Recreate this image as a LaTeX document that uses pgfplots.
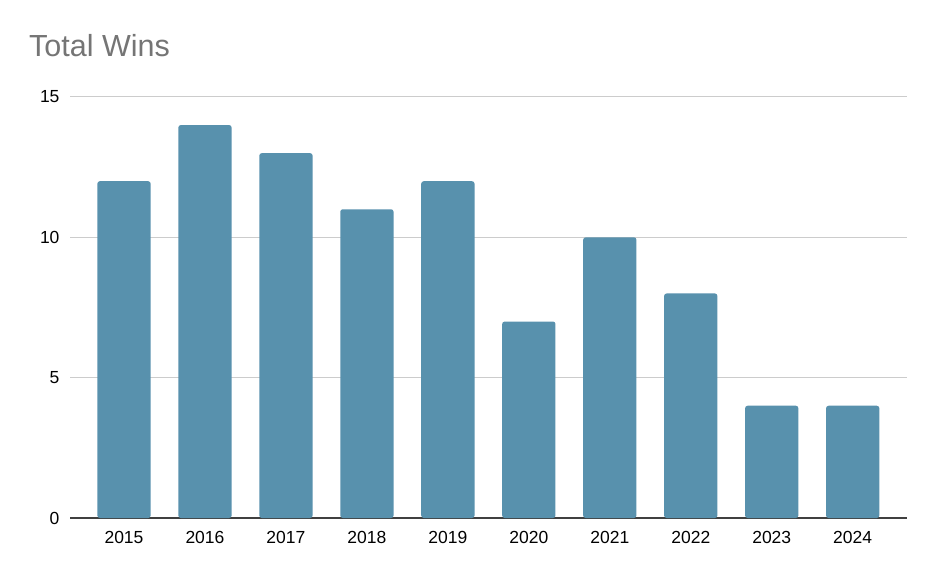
\documentclass[border=0pt]{standalone}
\usepackage{pgfplots}
\pgfplotsset{compat=1.18}
\usepackage{fontspec}
\setmainfont{Liberation Sans}
\definecolor{barc}{HTML}{5891AD}
\definecolor{gridc}{HTML}{CCCCCC}
\definecolor{titlec}{HTML}{757575}
\begin{document}
\begin{tikzpicture}[x=1pt,y=1pt]
\path[use as bounding box] (0,0) rectangle (936,578);
\node[anchor=base west, text=titlec, font=\fontsize{30.5}{34}\selectfont, inner sep=0pt] at (29,521.5) {Total Wins};
\begin{axis}[
  at={(70pt,60pt)}, anchor=south west,
  scale only axis, width=836.7pt, height=421pt,
  xmin=-0.667, xmax=9.667, ymin=0, ymax=15,
  ybar, bar width=0.658,
  xtick=data,
  xticklabels={2015,2016,2017,2018,2019,2020,2021,2022,2023,2024},
  ytick={0,5,10,15},
  ymajorgrids, grid style={gridc, line width=1pt},
  axis x line*=bottom, axis y line*=left,
  y axis line style={draw=none},
  x axis line style={draw=black!75, line width=1.6pt, -},
  major tick length=0pt,
  tick label style={font=\fontsize{17.5}{20}\selectfont},
  /pgf/number format/assume math mode=true,
  xticklabel style={yshift=-10pt},
  yticklabel style={xshift=-7pt},
  ]
\addplot[fill=barc, draw=none, rounded corners=2.5pt] coordinates {
(0,12) (1,14) (2,13) (3,11) (4,12) (5,7) (6,10) (7,8) (8,4) (9,4)};
\end{axis}
\end{tikzpicture}
\end{document}
